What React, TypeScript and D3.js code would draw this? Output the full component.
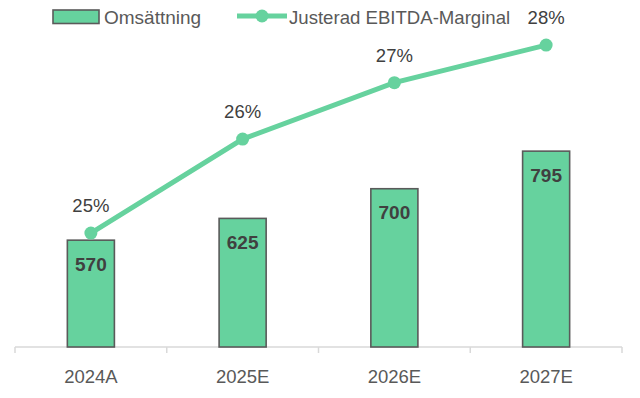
import React from "react";
import * as d3 from "d3";

const categories = ["2024A", "2025E", "2026E", "2027E"];
const revenue = [570, 625, 700, 795];
const margin = [24.6, 26.1, 27.0, 27.6];
const seriesNames = ["Omsättning", "Justerad EBITDA-Marginal"];

const W = 640;
const H = 398;
const GREEN = "#66D29E";
const OUTLINE = "#5A5A5A";
const TEXT = "#404040";
const AXIS_TEXT = "#595959";
const FONT = "'Liberation Sans', Arial, sans-serif";

export default function App() {
  const x = d3.scaleBand<string>().domain(categories).range([15, 622]).padding(0);
  const yBar = d3.scaleLinear().domain([300, 900]).range([347, 109.6]);
  const yLine = d3.scaleLinear().domain([22, 28]).range([396, 20]);
  const barW = x.bandwidth() * 0.31;
  const cx = (c: string) => (x(c) as number) + x.bandwidth() / 2;

  const line = d3
    .line<number>()
    .x((_, i) => cx(categories[i]))
    .y((d) => yLine(d));

  const tickXs = categories.map((c) => x(c) as number).concat([x.range()[1]]);

  return (
    <svg
      width={W}
      height={H}
      style={{ position: "absolute", left: 0, top: 0, background: "#fff" }}
      fontFamily={FONT}
    >
      {/* axis */}
      <line x1={15} x2={622} y1={347} y2={347} stroke="#D9D9D9" strokeWidth={1.5} />
      {tickXs.map((t, i) => (
        <line key={i} x1={t} x2={t} y1={347} y2={353} stroke="#D9D9D9" strokeWidth={1.5} />
      ))}
      {categories.map((c) => (
        <text
          key={c}
          x={cx(c)}
          y={376}
          textAnchor="middle"
          dominantBaseline="central"
          fontSize={18.5}
          fill={AXIS_TEXT}
        >
          {c}
        </text>
      ))}

      {/* bars */}
      {categories.map((c, i) => (
        <g key={c}>
          <rect
            x={cx(c) - barW / 2}
            y={yBar(revenue[i])}
            width={barW}
            height={yBar(300) - yBar(revenue[i])}
            fill={GREEN}
            stroke={OUTLINE}
            strokeWidth={1.6}
          />
          <text
            x={cx(c)}
            y={yBar(revenue[i]) + 24}
            textAnchor="middle"
            dominantBaseline="central"
            fontSize={19}
            fontWeight="bold"
            fill={TEXT}
          >
            {revenue[i]}
          </text>
        </g>
      ))}

      {/* line */}
      <path d={line(margin) || ""} fill="none" stroke={GREEN} strokeWidth={5} />
      {margin.map((m, i) => (
        <g key={i}>
          <circle cx={cx(categories[i])} cy={yLine(m)} r={6.5} fill={GREEN} />
          <text
            x={cx(categories[i])}
            y={yLine(m) - 27.5}
            textAnchor="middle"
            dominantBaseline="central"
            fontSize={18.5}
            fill={TEXT}
          >
            {Math.round(m)}%
          </text>
        </g>
      ))}

      {/* legend */}
      <rect x={53} y={10} width={46} height={13.5} fill={GREEN} stroke={OUTLINE} strokeWidth={1.6} />
      <text x={104} y={17} dominantBaseline="central" fontSize={19} fill={AXIS_TEXT}>
        {seriesNames[0]}
      </text>
      <line x1={237} x2={287} y1={16} y2={16} stroke={GREEN} strokeWidth={5} />
      <circle cx={262} cy={16} r={6.5} fill={GREEN} />
      <text x={289} y={17} dominantBaseline="central" fontSize={18.6} fill={AXIS_TEXT}>
        {seriesNames[1]}
      </text>
    </svg>
  );
}
